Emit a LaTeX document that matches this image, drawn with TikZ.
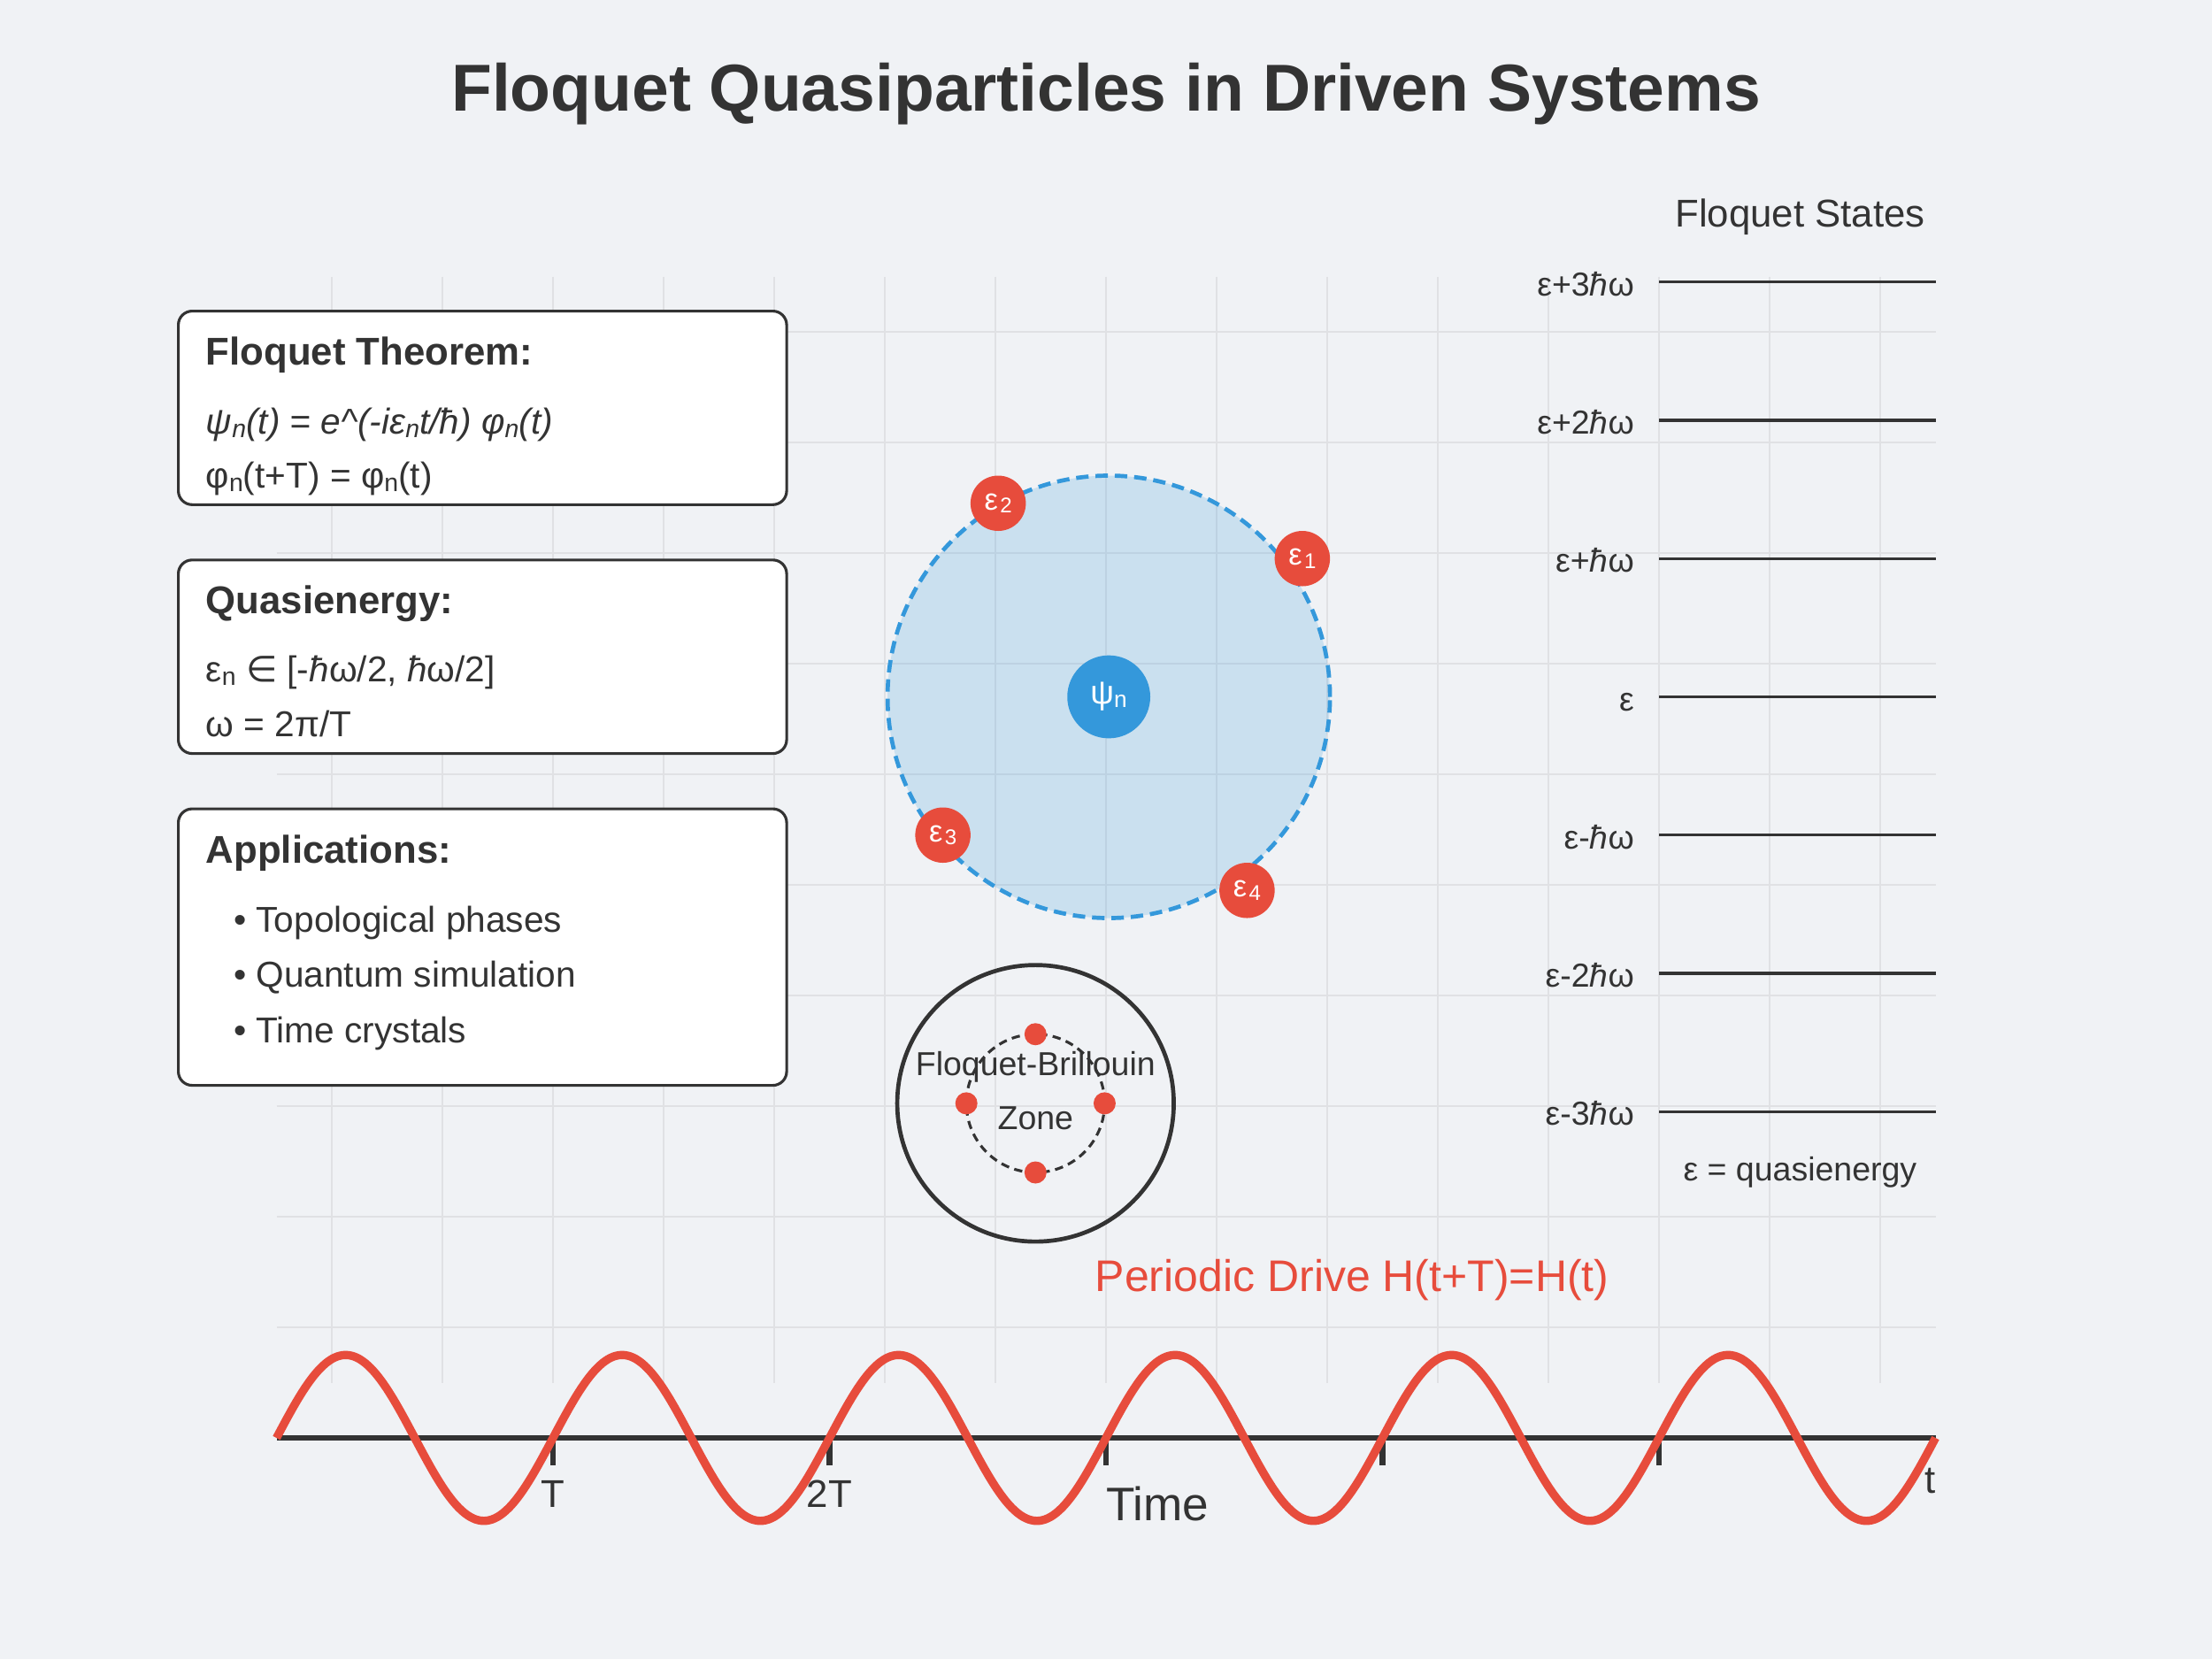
\documentclass[tikz,border=0pt]{standalone}
\usepackage{fontspec}
\usepackage{graphicx}
\setmainfont{Liberation Sans}
\newfontfamily\dejavu{DejaVu Sans}
\definecolor{bg}{HTML}{F0F2F5}
\definecolor{gridc}{HTML}{E0E1E4}
\definecolor{ink}{HTML}{333333}
\definecolor{fred}{HTML}{E74C3C}
\definecolor{fblue}{HTML}{3498DB}
\newcommand\lsub[1]{\raisebox{-0.1em}{\scalebox{0.7}{#1}}}
\newcommand\hb{{\itshape ħ}}
\newcommand\fsz[1]{\fontsize{#1}{#1}\selectfont}
\begin{document}
\begin{tikzpicture}[x=1pt,y=-1pt,
  txt/.style={inner sep=0pt, outer sep=0pt, text=ink, font=\fsz{13}},
  infobox/.style={draw=ink, fill=white, rounded corners=5pt, line width=1pt,
    minimum width=220pt, anchor=north west, inner sep=0pt},
  gridline/.style={gridc, line width=0.7pt},
  ebubble/.style={circle, fill=fred, minimum size=20pt, inner sep=0pt, text=white, font=\fsz{11}},
  reddot/.style={circle, fill=fred, minimum size=8pt, inner sep=0pt},
  level/.style={ink, line width=1pt},
  tick/.style={ink, line width=2pt}
]
\useasboundingbox (0,0) rectangle (800,600);
\fill[bg] (0,0) rectangle (800,600);

% grid
\foreach \x in {120,160,...,680} \draw[gridline] (\x,100) -- (\x,500);
\foreach \y in {120,160,...,480} \draw[gridline] (100,\y) -- (700,\y);

% title
\node[txt, anchor=base, font=\bfseries\fsz{24}] (title) at (400,40) {Floquet Quasiparticles in Driven Systems};

% info boxes
\node[infobox, minimum height=70pt] (box1) at (64,112) {};
\node[txt, anchor=base west, font=\bfseries\fsz{14}] (b1t) at (74.5,132) {Floquet Theorem:};
\node[txt, anchor=base west, font=\itshape\fsz{13}] (b1a) at (74.5,157) {ψ\lsub{n}(t) = e\textasciicircum(-iε\lsub{n}t/ħ) φ\lsub{n}(t)};
\node[txt, anchor=base west] (b1b) at (74.5,176.5) {φ\lsub{n}(t+T) = φ\lsub{n}(t)};

\node[infobox, minimum height=70pt] (box2) at (64,202) {};
\node[txt, anchor=base west, font=\bfseries\fsz{14}] (b2t) at (74.5,222) {Quasienergy:};
\node[txt, anchor=base west] (b2a) at (74.5,246.5) {ε\lsub{n} {\dejavu ∈} [-\hb ω/2, \hb ω/2]};
\node[txt, anchor=base west] (b2b) at (74.5,266.5) {ω = 2π/T};

\node[infobox, minimum height=100pt] (box3) at (64,292) {};
\node[txt, anchor=base west, font=\bfseries\fsz{14}] (b3t) at (74.5,312) {Applications:};
\node[txt, anchor=base west] (b3a) at (84.5,337) {• Topological phases};
\node[txt, anchor=base west] (b3b) at (84.5,357) {• Quantum simulation};
\node[txt, anchor=base west] (b3c) at (84.5,377) {• Time crystals};

% quasiparticle orbit
\node[circle, draw=fblue, fill=fblue, fill opacity=0.2, draw opacity=1, line width=1.5pt,
  dash pattern=on 4.5pt off 2.5pt, minimum size=160pt, inner sep=0pt] (orbit) at (401,252) {};
\node[circle, fill=fblue, minimum size=30pt, inner sep=0pt, text=white, font=\fsz{12}] (psi) at (401,252) {ψ\lsub{n}};
\node[ebubble] (e1) at (471,202) {ε\kern0.8pt\lsub{1}};
\node[ebubble] (e2) at (361,182) {ε\kern0.8pt\lsub{2}};
\node[ebubble] (e3) at (341,302) {ε\kern0.8pt\lsub{3}};
\node[ebubble] (e4) at (451,322) {ε\kern0.8pt\lsub{4}};

% Floquet-Brillouin zone
\node[circle, draw=ink, line width=1.5pt, minimum size=100pt, inner sep=0pt] (fbz) at (374.5,399) {};
\node[circle, draw=ink, line width=1pt, dash pattern=on 3pt off 2pt, minimum size=50pt, inner sep=0pt, outer sep=0pt] (fbin) at (374.5,399) {};
\node[reddot] (dn) at (fbin.north) {};
\node[reddot] (ds) at (fbin.south) {};
\node[reddot] (dw) at (fbin.west) {};
\node[reddot] (de) at (fbin.east) {};
\node[txt, anchor=base, font=\fsz{12}] (fbt1) at (374.5,389) {Floquet-Brillouin};
\node[txt, anchor=base, font=\fsz{12}] (fbt2) at (374.5,408.5) {Zone};

% Floquet states ladder
\node[txt, anchor=base, font=\fsz{14}] (fst) at (651,82) {Floquet States};
\foreach \yy/\lab [count=\i] in {102/{ε+3\hb ω},152/{ε+2\hb ω},202/{ε+\hb ω},252/{ε},302/{ε-\hb ω},352/{ε-2\hb ω},402/{ε-3\hb ω}} {
  \coordinate (la\i) at (600,\yy);
  \coordinate (lb\i) at (700,\yy);
  \draw[level] (la\i) -- (lb\i);
  \node[txt, anchor=base east, font=\fsz{12}] (lab\i) at (591,\yy+5) {\lab};
}
\node[txt, anchor=base, font=\fsz{12}] (qe) at (651,427) {ε = quasienergy};

% periodic drive
\node[txt, anchor=base, text=fred, font=\fsz{16}] (pd) at (489,467) {Periodic Drive H(t+T)=H(t)};
\coordinate (ax0) at (100,520);
\coordinate (ax1) at (700,520);
\draw[ink, line width=2pt] (ax0) -- (ax1);
\foreach \tx in {200,300,400,500,600} {
  \coordinate (ta\tx) at (\tx,520);
  \coordinate (tb\tx) at (\tx,530);
  \draw[tick] (ta\tx) -- (tb\tx);
}
\draw[fred, line width=3pt, line join=round] plot[domain=100:700, samples=301, smooth] (\x, {520-30*sin(3.6*(\x-100))});
\node[txt, anchor=base, font=\fsz{14}] (tT) at (200,545) {T};
\node[txt, anchor=base, font=\fsz{14}] (t2T) at (300,545) {2T};
\node[txt, anchor=base west, font=\fsz{17}] (time) at (400,550) {Time};
\node[txt, anchor=base east, font=\fsz{14}] (tt) at (700,540) {t};
\end{tikzpicture}
\end{document}
